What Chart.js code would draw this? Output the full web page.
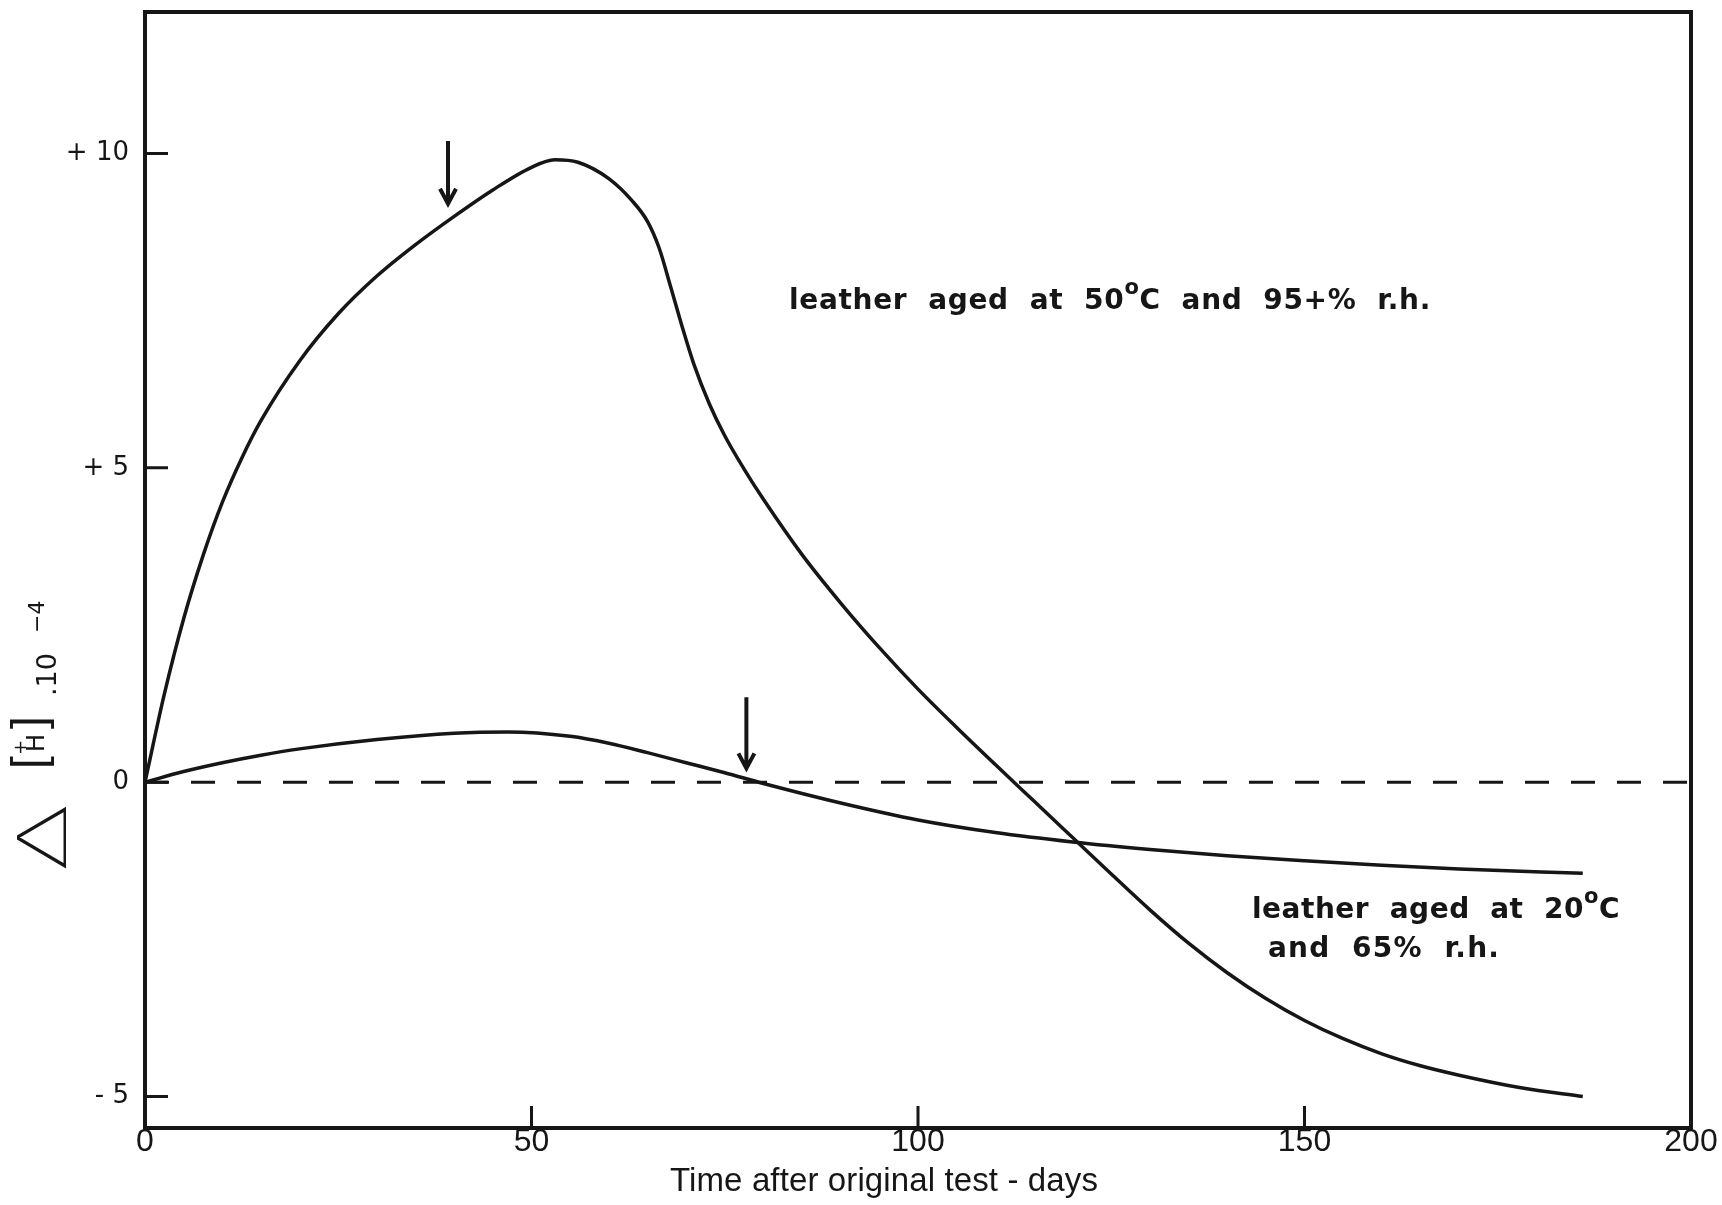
<!DOCTYPE html>
<html>
<head>
<meta charset="utf-8">
<script src="https://cdn.jsdelivr.net/npm/chart.js@4.4.1/dist/chart.umd.min.js"></script>
<style>
  html, body { margin: 0; padding: 0; background: #fff; }
  #wrap { width: 1722px; height: 1205px; }
</style>
</head>
<body>
<div id="wrap"><canvas id="chart"></canvas></div>
<script>
// ---- data ----
// leather aged at 50 C and 95+% r.h.
const hotX = [0, 2.5, 5, 7.5, 10, 12.5, 15, 20, 25, 30, 35, 40, 45, 50, 53, 56, 60, 63, 65, 66.5, 68, 69.5, 71, 73, 75, 77.5, 80, 85, 90, 95, 100, 105, 110, 115, 120, 125, 130, 135, 140, 145, 150, 155, 160, 165, 170, 178, 186];
const hotY = [0, 1.4, 2.6, 3.6, 4.45, 5.15, 5.75, 6.7, 7.45, 8.05, 8.55, 9.0, 9.42, 9.78, 9.9, 9.86, 9.6, 9.25, 8.92, 8.5, 7.88, 7.24, 6.65, 6.02, 5.51, 4.98, 4.5, 3.62, 2.85, 2.14, 1.48, 0.87, 0.28, -0.3, -0.88, -1.46, -2.03, -2.56, -3.03, -3.44, -3.79, -4.08, -4.32, -4.51, -4.66, -4.86, -5.0];
// leather aged at 20 C and 65% r.h.
const coolX = [0, 5, 10, 15, 20, 30, 40, 47, 55, 60, 65, 70, 75, 80, 90, 100, 110, 120, 130, 140, 150, 160, 170, 186];
const coolY = [0, 0.17, 0.31, 0.43, 0.53, 0.68, 0.78, 0.8, 0.73, 0.62, 0.47, 0.31, 0.15, -0.02, -0.33, -0.6, -0.8, -0.95, -1.07, -1.17, -1.25, -1.32, -1.38, -1.45];
// dashed zero line
const zeroX = [0, 200];
const zeroY = [0, 0];
// arrows marking points on the curves
const arrowX = [39.2, 77.8];
const arrowTop = [10.2, 1.35];
const arrowTip = [9.2, 0.22];

const xTicks = [0, 50, 100, 150, 200];
const yTicks = [-5, 0, 5, 10];
const yTickLabels = ['- 5', '0', '+ 5', '+ 10'];

const INK = '#161616';
const pts = (xs, ys) => xs.map((x, i) => ({ x: x, y: ys[i] }));

// text laid out in runs: [text, size, rise], stretched to a width
function textRuns(ctx, parts, x, y, width, family, weight) {
  const w = weight || 'normal';
  let natural = 0, chars = 0;
  ctx.letterSpacing = '0px';
  parts.forEach(p => {
    ctx.font = w + ' ' + p[1] + 'px ' + family;
    natural += ctx.measureText(p[0]).width;
    chars += p[0].length;
  });
  ctx.letterSpacing = (width ? (width - natural) / chars : 0) + 'px';
  let cx = x;
  parts.forEach(p => {
    ctx.font = w + ' ' + p[1] + 'px ' + family;
    ctx.fillText(p[0], cx, y - p[2]);
    cx += ctx.measureText(p[0]).width;
  });
  ctx.letterSpacing = '0px';
}

const paper = {
  id: 'paper',
  beforeDraw(chart) {
    const ctx = chart.ctx;
    ctx.save();
    ctx.fillStyle = '#fff';
    ctx.fillRect(0, 0, chart.width, chart.height);
    ctx.restore();
  },
  afterDraw(chart) {
    const ctx = chart.ctx, a = chart.chartArea;
    const xs = chart.scales.x, ys = chart.scales.y;
    ctx.save();
    ctx.strokeStyle = INK;
    ctx.fillStyle = INK;
    ctx.lineCap = 'butt';

    // frame
    ctx.lineWidth = 4;
    ctx.strokeRect(a.left, a.top, a.right - a.left, a.bottom - a.top);

    // inward tick marks
    ctx.lineWidth = 3;
    ctx.beginPath();
    yTicks.forEach(v => {
      const py = ys.getPixelForValue(v);
      ctx.moveTo(a.left, py);
      ctx.lineTo(a.left + 23, py);
    });
    xTicks.slice(1, -1).forEach(v => {
      const px = xs.getPixelForValue(v);
      ctx.moveTo(px, a.bottom);
      ctx.lineTo(px, a.bottom - 22);
    });
    ctx.stroke();

    // arrows
    ctx.lineWidth = 4;
    arrowX.forEach((v, i) => {
      const px = xs.getPixelForValue(v);
      const top = ys.getPixelForValue(arrowTop[i]);
      const tip = ys.getPixelForValue(arrowTip[i]);
      ctx.beginPath();
      ctx.moveTo(px, top);
      ctx.lineTo(px, tip);
      ctx.moveTo(px - 8, tip - 15);
      ctx.lineTo(px, tip);
      ctx.lineTo(px + 8, tip - 15);
      ctx.stroke();
    });

    // curve labels
    const sans = '"DejaVu Sans", sans-serif';
    ctx.textBaseline = 'alphabetic';
    ctx.textAlign = 'left';
    textRuns(ctx, [['leather  aged  at  50', 28, 0], ['o', 21, 15], ['C  and  95+%  r.h.', 28, 0]], 789, 309, 642, sans, 'bold');
    textRuns(ctx, [['leather  aged  at  20', 28, 0], ['o', 21, 15], ['C', 28, 0]], 1252, 918, 368, sans, 'bold');
    textRuns(ctx, [['and  65%  r.h.', 28, 0]], 1268, 957, 232, sans, 'bold');

    // x axis title
    textRuns(ctx, [['Time after original test - days', 33, 0]], 670, 1191, 428, '"Liberation Sans", Arial, sans-serif');

    // y axis title, rotated: delta [H+] .10^-4
    ctx.translate(0, 873);
    ctx.rotate(-Math.PI / 2);
    ctx.save();
    ctx.translate(2, 0);
    ctx.scale(1.4, 1);
    ctx.font = '200 69px Roboto, "DejaVu Sans", sans-serif';
    ctx.fillText('\u0394', 0, 66);
    ctx.restore();
    ctx.font = '46px "Liberation Sans", sans-serif';
    ctx.fillText('[', 104, 44);
    ctx.fillText(']', 144, 44);
    ctx.font = '24px "DejaVu Sans", sans-serif';
    ctx.fillText('H', 121, 44);
    ctx.font = '18px "DejaVu Sans", sans-serif';
    ctx.fillText('+', 118, 26);
    ctx.font = '27px "DejaVu Sans", sans-serif';
    ctx.fillText('.10', 177, 56);
    ctx.font = '22px "DejaVu Sans", sans-serif';
    ctx.fillText('\u22124', 240, 44);
    ctx.restore();
  }
};

new Chart(document.getElementById('chart'), {
  type: 'line',
  data: {
    datasets: [
      {
        label: 'leather aged at 50\u00b0C and 95+% r.h.',
        data: pts(hotX, hotY),
        borderColor: INK,
        borderWidth: 3.5,
        pointRadius: 0,
        cubicInterpolationMode: 'monotone'
      },
      {
        label: 'leather aged at 20\u00b0C and 65% r.h.',
        data: pts(coolX, coolY),
        borderColor: INK,
        borderWidth: 3.5,
        pointRadius: 0,
        cubicInterpolationMode: 'monotone'
      },
      {
        label: 'zero',
        data: pts(zeroX, zeroY),
        borderColor: INK,
        borderWidth: 3,
        borderDash: [24, 22],
        pointRadius: 0
      }
    ]
  },
  options: {
    responsive: true,
    maintainAspectRatio: false,
    animation: false,
    devicePixelRatio: 1,
    layout: { padding: { top: 12, right: 31, left: 0, bottom: 0 } },
    plugins: { legend: { display: false }, tooltip: { enabled: false } },
    scales: {
      x: {
        type: 'linear',
        min: 0,
        max: 200,
        grid: { display: false, drawTicks: false },
        border: { display: false },
        afterBuildTicks: s => { s.ticks = xTicks.map(v => ({ value: v })); },
        afterFit: s => { s.height = 77; },
        ticks: {
          padding: -5,
          color: INK,
          font: { family: '"Liberation Sans", Arial, sans-serif', size: 32 }
        }
      },
      y: {
        min: -5.5,
        max: 12.25,
        grid: { display: false, drawTicks: false },
        border: { display: false },
        afterBuildTicks: s => { s.ticks = yTicks.map(v => ({ value: v })); },
        afterFit: s => { s.width = 145; s.paddingTop = 0; s.paddingBottom = 0; },
        ticks: {
          padding: 16,
          color: INK,
          font: { family: '"DejaVu Sans", sans-serif', size: 26 },
          callback: v => yTickLabels[yTicks.indexOf(v)]
        }
      }
    }
  },
  plugins: [paper]
});
</script>
</body>
</html>
